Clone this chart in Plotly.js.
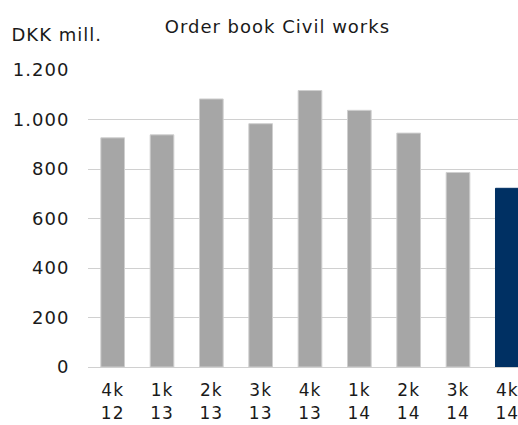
<!DOCTYPE html>
<html>
<head>
<meta charset="utf-8">
<script src="https://cdn.plot.ly/plotly-3.0.1.min.js"></script>
<style>
html,body{margin:0;padding:0;overflow:hidden;background:#fff;}
#chart{width:545px;height:425px;}
#chart text{letter-spacing:1px;}
</style>
</head>
<body>
<div id="chart"></div>
<script>
const quarters = ['4k','1k','2k','3k','4k','1k','2k','3k','4k'];
const years = ['12','13','13','13','13','14','14','14','14'];
const values = [926, 938, 1083, 983, 1117, 1037, 945, 786, 722];
const barColors = ['#a6a6a6','#a6a6a6','#a6a6a6','#a6a6a6','#a6a6a6','#a6a6a6','#a6a6a6','#a6a6a6','#003063'];
const edgeColors = ['#cfcfcf','#cfcfcf','#cfcfcf','#cfcfcf','#cfcfcf','#cfcfcf','#cfcfcf','#cfcfcf','#003063'];
const categories = quarters.map((q, i) => i);
const tickLabels = quarters.map((q, i) => q + '<br>' + years[i]);

const font = {family: 'DejaVu Sans, Verdana, sans-serif', size: 18, color: '#1a1a1a'};
const xFont = {family: 'DejaVu Sans, Verdana, sans-serif', size: 17, color: '#1a1a1a'};

Plotly.newPlot('chart', [{
  type: 'bar',
  x: categories,
  y: values,
  marker: {color: barColors, line: {color: edgeColors, width: 1}},
  hoverinfo: 'none'
}], {
  width: 545, height: 425,
  margin: {l: 88, r: 13, t: 70, b: 58},
  separators: ',.',
  font: font,
  showlegend: false,
  bargap: 0.52,
  paper_bgcolor: '#fff', plot_bgcolor: '#fff',
  title: {text: 'Order book Civil works', font: font, x: 0.509, xref: 'container', xanchor: 'center', y: 0.938, yanchor: 'middle'},
  xaxis: {
    tickmode: 'array', tickvals: categories, ticktext: tickLabels, tickfont: xFont,
    range: [-0.5, 8.5], showgrid: false, zeroline: false, showline: false,
    ticks: 'outside', ticklen: 8, tickcolor: 'rgba(0,0,0,0)', fixedrange: true
  },
  yaxis: {
    range: [0, 1200], dtick: 200, tickformat: ',d',
    showgrid: true, gridcolor: '#d0d0d0', gridwidth: 1,
    zeroline: true, zerolinecolor: '#d0d0d0', zerolinewidth: 1,
    showline: false, ticks: 'outside', ticklen: 14, tickcolor: 'rgba(0,0,0,0)', fixedrange: true
  },
  annotations: [{
    text: 'DKK mill.', xref: 'paper', yref: 'paper', x: -0.166, y: 1.118,
    xanchor: 'left', yanchor: 'middle', showarrow: false, font: font
  }]
}, {displayModeBar: false, staticPlot: true});
</script>
</body>
</html>
